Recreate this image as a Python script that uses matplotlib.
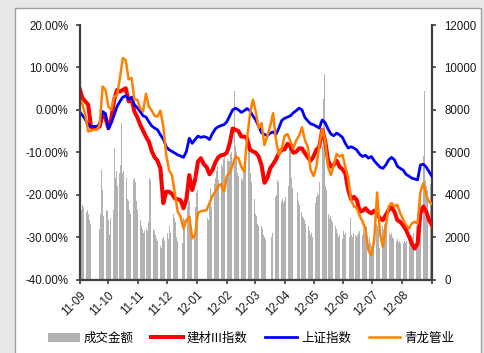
import numpy as np
import pandas as pd
import matplotlib
matplotlib.use("Agg")
import matplotlib.pyplot as plt
from matplotlib.patches import Patch, Rectangle
from matplotlib.lines import Line2D

plt.rcParams["font.family"] = ["Liberation Sans", "DejaVu Sans"]

# --- daily turnover (成交金额), trading days only, one list per month ---
vol_1109 = [5300, 3600, 3300, 3500, 3400, 3200, 3300, 3100, 2800, 2600]
vol_1110 = [2400, 3100, 5150, 4200, 3000, 3300, 3250, 2800, 2100, 2900,
            3300, 6200, 4800, 5100, 4400, 5000]
vol_1111 = [5400, 7400, 5000, 5100, 4800, 3800, 3700, 3300, 3100, 4700,
            4800, 4600, 3700, 3300, 2800, 2500, 2400, 2200, 2300, 2400,
            2300, 2700]
vol_1112 = [4800, 4700, 2400, 2300, 2100, 1900, 1800, 1600, 1500, 1900,
            2000, 1800, 2200, 1900, 2500, 2200, 2400, 3100, 2900, 2700,
            2000, 1800]
vol_1201 = [1700, 2900, 2800, 3400, 5000, 3700, 3000, 2500, 2200, 3400,
            4100, 3400, 4200, 2900, 2800]
vol_1202 = [3700, 4300, 3400, 4500, 4800, 5100, 5300, 4700, 5400, 5300,
            5600, 5700, 5900, 5700, 5600, 5600, 5900, 6000, 8900, 6300,
            6000]
vol_1203 = [5000, 4900, 4800, 4700, 5300, 5400, 5500, 6400, 5400, 6100,
            5000, 4600, 3800, 3100, 3000, 2600, 2500, 2500, 2400, 2100,
            2000, 1900]
vol_1204 = [2000, 2200, 3400, 3900, 4000, 4700, 4600, 3700, 3800, 3600,
            3700, 3900, 4400, 6200, 6300, 4800, 4300]
vol_1205 = [4100, 3700, 3500, 3200, 3000, 2900, 2800, 2600, 2500, 2300,
            2100, 2200, 2000, 3600, 3900, 4100, 4000, 4600, 6300, 8500,
            9700, 4400]
vol_1206 = [4200, 3100, 2900, 3000, 2800, 2700, 2500, 2400, 2200, 2000,
            2100, 1900, 2300, 2100, 2200, 2000, 2900, 2100, 2000, 2200]
vol_1207 = [2100, 2000, 2100, 2200, 2300, 2100, 2400, 2200, 2300, 2500,
            2000, 1700, 1600, 1500, 1600, 2600, 2500, 2400, 1500, 1600,
            2500, 2400]
vol_1208 = [2600, 2500, 2300, 2200, 2100, 2200, 2000, 1900, 1800, 1900,
            1700, 1800, 1700, 1700, 1800, 1700, 1900, 1800, 1900, 2000,
            2100, 2000, 2200]
vol_1209 = [2500, 2400, 2600, 3100, 3900, 5800, 8900, 4700, 4400, 4200,
            4500, 4400]

HOLIDAYS = ["2011-10-03", "2011-10-04", "2011-10-05", "2011-10-06", "2011-10-07",
            "2012-01-02", "2012-01-03", "2012-01-23", "2012-01-24", "2012-01-25",
            "2012-01-26", "2012-01-27", "2012-04-02", "2012-04-03", "2012-04-04",
            "2012-04-30", "2012-05-01", "2012-06-22"]

# --- index returns (%), read every 3 calendar days from 2011-09-19 ---
jiancai = [5.1, 2.8, 2.0, 1.2, -4.1, -4.3, -4.3, -3.9, -0.8, -2.0,
           -4.3, -2.0, 2.4, 4.7, 4.3, 4.7, 5.1, 2.0, 2.5, -0.4,
           -1.7, -3.5, -4.9, -6.3, -7.5, -9.7, -11.2, -12.0, -13.8, -22.0,
           -19.3, -19.3, -19.8, -20.9, -21.1, -21.3, -23.2, -21.0, -15.4, -18.9,
           -16.5, -12.2, -11.4, -12.8, -13.5, -15.2, -14.2, -12.4, -11.2, -10.7,
           -10.6, -10.1, -7.9, -4.4, -4.7, -5.0, -6.3, -6.3, -6.7, -9.4,
           -9.8, -10.1, -11.0, -13.0, -17.2, -16.1, -13.8, -12.8, -11.7, -10.2,
           -9.4, -9.3, -8.0, -8.7, -10.1, -9.9, -9.1, -9.1, -10.2, -11.2,
           -12.0, -11.0, -9.4, -8.7, -4.7, -7.2, -11.8, -13.4, -13.0, -12.0,
           -13.4, -14.0, -15.0, -18.9, -21.1, -20.5, -21.3, -24.0, -23.8, -23.2,
           -24.0, -24.4, -23.8, -24.6, -25.6, -26.0, -24.8, -23.6, -23.0, -24.0,
           -26.0, -26.4, -27.2, -28.3, -29.8, -31.5, -32.7, -31.5, -24.4, -22.8,
           -24.0, -26.0, -27.2]
sh_index = [-0.4, -1.3, -2.2, -3.6, -3.9, -3.9, -3.9, -3.5, -0.4, -0.9,
            -4.5, -3.1, -1.2, 0.8, 2.0, 3.0, 3.3, 2.5, 3.0, 1.2,
            0.5, -0.4, -1.4, -1.7, -2.8, -3.8, -4.3, -4.7, -5.9, -6.9,
            -8.7, -9.4, -9.8, -10.2, -10.6, -10.9, -11.2, -9.8, -6.7, -7.9,
            -7.0, -6.2, -6.5, -6.3, -6.5, -7.0, -5.6, -4.5, -4.0, -3.7,
            -3.5, -2.8, -1.4, 0.0, 0.4, 0.0, -0.6, -0.2, 0.3, -0.2,
            -1.4, -2.4, -3.9, -5.4, -5.8, -6.1, -5.5, -5.2, -5.8, -4.3,
            -2.5, -2.0, -1.7, -1.4, -0.7, -0.2, 0.4, 0.0, -1.8, -2.6,
            -3.3, -3.5, -3.9, -4.3, -2.4, -3.0, -4.5, -5.7, -6.1, -5.5,
            -5.9, -6.5, -7.9, -9.0, -8.7, -9.0, -9.5, -10.5, -11.0, -10.7,
            -11.4, -11.0, -12.0, -12.8, -13.5, -13.8, -13.0, -11.8, -11.2, -11.8,
            -13.3, -13.8, -14.2, -15.2, -15.6, -16.1, -16.3, -16.5, -13.0, -12.8,
            -13.5, -14.6, -15.7]
qinglong = [2.8, 1.3, -1.2, -5.1, -4.9, -4.7, -4.7, -3.5, 5.5, 4.7,
            0.8, 0.0, 3.1, 3.5, 7.5, 12.2, 11.7, 7.2, 7.5, 2.5,
            2.4, 0.4, -0.4, 3.8, 0.8, -0.2, -1.4, -1.6, -0.2, -3.9,
            -10.6, -14.2, -15.4, -19.7, -24.0, -25.2, -28.0, -26.0, -25.2, -30.3,
            -29.5, -24.3, -23.9, -23.8, -23.6, -22.0, -20.3, -19.3, -18.0, -17.5,
            -19.3, -15.7, -14.8, -13.0, -11.0, -11.4, -13.4, -14.6, -6.7, -1.0,
            2.4, -0.4, -4.3, -3.1, -8.3, -6.3, -3.8, -0.8, -7.1, -10.6,
            -9.1, -6.1, -5.7, -7.4, -9.1, -7.2, -6.1, -4.1, -7.1, -8.7,
            -14.2, -15.6, -13.4, -8.3, -4.6, -7.2, -13.4, -15.4, -13.0, -10.4,
            -11.0, -10.6, -13.4, -16.1, -21.3, -22.8, -23.2, -25.0, -26.4, -28.3,
            -33.1, -34.3, -30.7, -19.5, -29.1, -32.3, -27.6, -22.8, -22.0, -22.7,
            -22.4, -24.4, -25.8, -27.2, -28.0, -26.8, -26.4, -26.8, -19.3, -17.3,
            -20.1, -21.7, -22.2]

LABELS = ["成交金额", "建材III指数", "上证指数", "青龙管业"]
COLORS = ["#b2b2b2", "#ff0000", "#0000ff", "#ff8000"]

volume = np.concatenate([vol_1109, vol_1110, vol_1111, vol_1112, vol_1201, vol_1202,
                         vol_1203, vol_1204, vol_1205, vol_1206, vol_1207, vol_1208,
                         vol_1209])
trade_days = pd.bdate_range("2011-09-19", "2012-09-18", freq="C", holidays=HOLIDAYS)
n = min(len(trade_days), len(volume))
line_days = pd.date_range("2011-09-19", periods=len(jiancai), freq="3D")
month_ticks = pd.date_range("2011-09-19", periods=13, freq=pd.DateOffset(months=1))
tick_labels = [d.strftime("%y-%m") for d in month_ticks[:-1]] + [""]

fig = plt.figure(figsize=(4.84, 3.53), dpi=100, facecolor="#e8e8e8")
fig.add_artist(Rectangle((15 / 484, -0.01), 466 / 484, 1 - 8 / 353 + 0.01,
                         transform=fig.transFigure, facecolor="white",
                         edgecolor="#a0a0a0", lw=1.0, zorder=0))

ax_vol = fig.add_axes([79.5 / 484, 1 - 279.5 / 353, (432 - 79.5) / 484, (279.5 - 25) / 353])
ax_vol.bar(trade_days[:n], volume[:n], width=1.0, color=COLORS[0], lw=0)
ax_vol.set_ylim(0, 12000)
ax_vol.set_yticks(np.arange(0, 12001, 2000))
ax_vol.patch.set_visible(False)

# percentage axis on the left, drawn above the bars
ax = ax_vol.twinx()
ax.yaxis.tick_left()
ax_vol.yaxis.tick_right()
ax.plot(line_days, jiancai, color=COLORS[1], lw=2.9, solid_joinstyle="round")
ax.plot(line_days, sh_index, color=COLORS[2], lw=2.0, solid_joinstyle="round")
ax.plot(line_days, qinglong, color=COLORS[3], lw=1.8, solid_joinstyle="round")
ax.set_ylim(-40, 20)
ax.set_yticks(np.arange(-40, 21, 10))
ax.set_yticklabels([f"{v:.2f}%" for v in np.arange(-40, 21, 10)])

ax_vol.set_xlim(month_ticks[0], month_ticks[-1])
ax_vol.set_xticks(month_ticks)
ax_vol.set_xticklabels(tick_labels, rotation=45, ha="right", rotation_mode="anchor")

spine_c = "#404040"
for a in (ax, ax_vol):
    for s in a.spines.values():
        s.set_visible(False)
ax.spines["left"].set_visible(True)
ax.spines["left"].set_color(spine_c)
ax.spines["left"].set_linewidth(1.6)
for s in ("right", "bottom"):
    ax_vol.spines[s].set_visible(True)
    ax_vol.spines[s].set_color(spine_c)
    ax_vol.spines[s].set_linewidth(1.6)

ax.tick_params(axis="y", direction="out", length=3, width=1.2, color=spine_c,
               labelsize=8.3, labelcolor="#1a1a1a", pad=5)
ax_vol.tick_params(axis="y", direction="out", length=3, width=1.2, color=spine_c,
                   labelsize=8.3, labelcolor="#1a1a1a", pad=6)
ax_vol.tick_params(axis="x", direction="out", length=3, width=1.2, color=spine_c,
                   labelsize=8.3, labelcolor="#1a1a1a", pad=4)

handles = [Patch(facecolor=COLORS[0], edgecolor="none"),
           Line2D([], [], color=COLORS[1], lw=2.9),
           Line2D([], [], color=COLORS[2], lw=2.0),
           Line2D([], [], color=COLORS[3], lw=1.8)]
fig.legend(handles, LABELS, loc="center", bbox_to_anchor=(0.519, 0.042), ncol=4,
           frameon=False, handlelength=2.5, handletextpad=0.35, columnspacing=1.4,
           prop={"family": ["Noto Sans CJK SC", "DejaVu Sans"], "size": 9})

fig.savefig("out.png", dpi=100, facecolor=fig.get_facecolor())
